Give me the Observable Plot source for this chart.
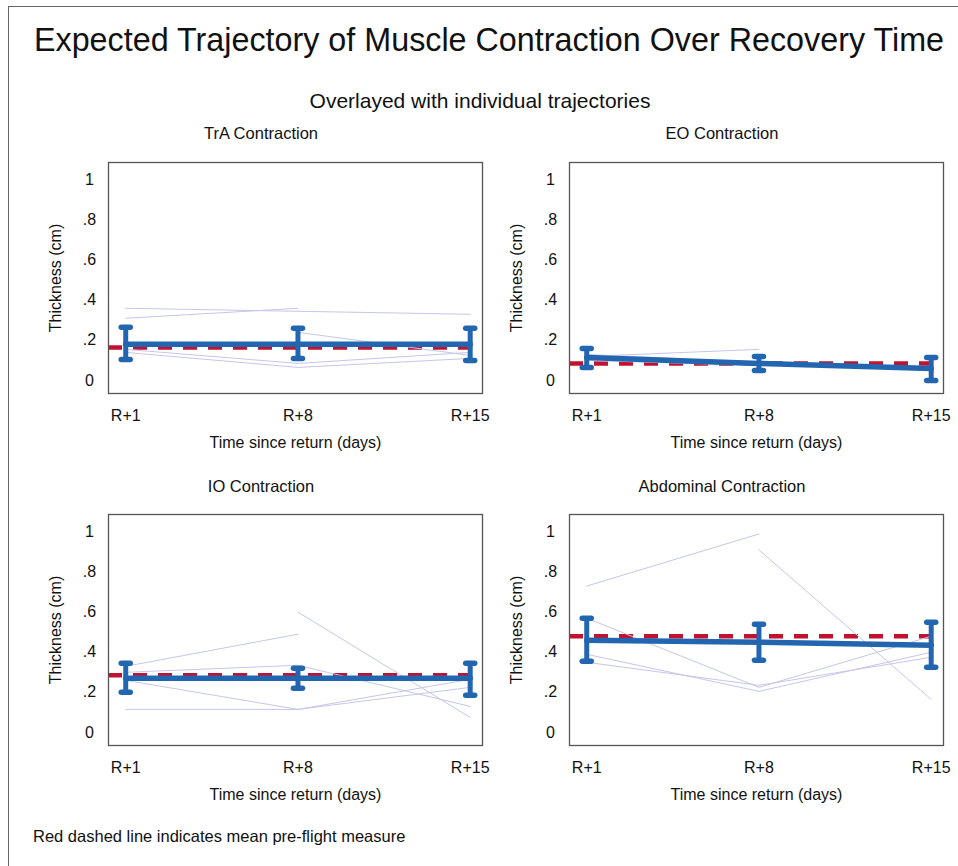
<!DOCTYPE html>
<html>
<head>
<meta charset="utf-8">
<script src="https://cdn.jsdelivr.net/npm/d3@7"></script>
<script src="https://cdn.jsdelivr.net/npm/@observablehq/plot@0.6"></script>
<style>
  body { margin: 0; background: #fff; font-family: "Liberation Sans", Arial, Helvetica, sans-serif; color: #111; }
  #page { position: relative; width: 958px; height: 866px; overflow: hidden; }
  .border { position: absolute; left: 8px; top: 6px; width: 1000px; height: 900px; border-left: 1px solid #666; border-top: 1px solid #666; }
  .txt { position: absolute; line-height: 1; white-space: nowrap; }
  .panel { position: absolute; }
</style>
</head>
<body>
<div id="page">
  <div class="border"></div>
  <div class="txt" id="title" style="left:0;width:978px;text-align:center;top:24px;font-size:32.3px;"></div>
  <div class="txt" id="subtitle" style="left:0;width:960px;text-align:center;top:90px;font-size:21px;"></div>
  <div class="txt" id="t0" style="left:61px;width:400px;text-align:center;top:125px;font-size:16.5px;"></div>
  <div class="txt" id="t1" style="left:522px;width:400px;text-align:center;top:125px;font-size:16.5px;"></div>
  <div class="txt" id="t2" style="left:61px;width:400px;text-align:center;top:478px;font-size:16.5px;"></div>
  <div class="txt" id="t3" style="left:522px;width:400px;text-align:center;top:478px;font-size:16.5px;"></div>
  <div class="panel" id="p0" style="left:30px;top:150px;"></div>
  <div class="panel" id="p1" style="left:491px;top:150px;"></div>
  <div class="panel" id="p2" style="left:30px;top:502px;"></div>
  <div class="panel" id="p3" style="left:491px;top:502px;"></div>
  <div class="txt" id="caption" style="left:33px;top:828px;font-size:16.5px;"></div>
</div>
<script>
// ---- Text ----
const mainTitle = "Expected Trajectory of Muscle Contraction Over Recovery Time";
const subTitle = "Overlayed with individual trajectories";
const captionText = "Red dashed line indicates mean pre-flight measure";
const panelTitles = ["TrA Contraction", "EO Contraction", "IO Contraction", "Abdominal Contraction"];
const xTitle = "Time since return (days)";
const yTitle = "Thickness (cm)";

// ---- Axes ----
const days = [1, 8, 15];
const dayLabels = ["R+1", "R+8", "R+15"];
const yTicks = [0, 0.2, 0.4, 0.6, 0.8, 1];
const yTickLabels = ["0", ".2", ".4", ".6", ".8", "1"];

// ---- TrA ----
const traMean = [0.18, 0.18, 0.18];
const traLow = [0.105, 0.11, 0.10];
const traHigh = [0.265, 0.26, 0.26];
const traPre = 0.165;
const traSubjects = [
  [0.36, 0.345, 0.33],
  [0.31, 0.36, null],
  [0.14, 0.065, 0.11],
  [0.155, 0.085, 0.14],
  [null, 0.24, 0.125]
];

// ---- EO ----
const eoMean = [0.115, 0.085, 0.06];
const eoLow = [0.065, 0.05, 0.0];
const eoHigh = [0.16, 0.12, 0.115];
const eoPre = 0.085;
const eoSubjects = [
  [0.12, 0.155, null],
  [0.10, 0.075, 0.07],
  [0.13, 0.09, 0.05],
  [0.11, 0.08, 0.06]
];

// ---- IO ----
const ioMean = [0.27, 0.27, 0.27];
const ioLow = [0.20, 0.22, 0.185];
const ioHigh = [0.345, 0.32, 0.345];
const ioPre = 0.285;
const ioSubjects = [
  [0.33, 0.49, null],
  [null, 0.60, 0.075],
  [0.115, 0.115, 0.265],
  [0.26, 0.115, 0.225],
  [0.30, 0.335, 0.13]
];

// ---- Abdominal ----
const abMean = [0.46, 0.45, 0.435];
const abLow = [0.355, 0.36, 0.325];
const abHigh = [0.57, 0.54, 0.55];
const abPre = 0.48;
const abSubjects = [
  [0.73, 0.99, null],
  [null, 0.91, 0.165],
  [0.57, 0.225, 0.48],
  [0.39, 0.205, 0.40],
  [0.35, 0.235, 0.375]
];

const blue = "#2366b0";
const red = "#c1132f";
const lavender = "#c6c6ea";

// horizontal-bar symbol for error-bar caps
const capSymbol = {
  draw(context, size) {
    const r = Math.sqrt(size / Math.PI);
    context.moveTo(-r, 0);
    context.lineTo(r, 0);
  }
};

function makePanel(mean, low, high, pre, subjects, width) {
  const meanData = days.map((d, i) => ({day: d, mean: mean[i], low: low[i], high: high[i]}));
  const subjData = subjects.flatMap((s, j) => s.map((v, i) => ({subject: j, day: days[i], value: v == null ? NaN : v})));
  return Plot.plot({
    width,
    height: 305,
    marginLeft: 78,
    marginRight: width - 78 - 374,
    marginTop: 12,
    marginBottom: 62,
    style: {fontFamily: "'Liberation Sans', Arial, sans-serif", fontSize: "16px", color: "#111", background: "transparent", overflow: "visible"},
    x: {domain: [0.3, 15.5]},
    y: {domain: [-0.065, 1.087]},
    marks: [
      Plot.axisX(days, {
        tickSize: 0, tickPadding: 16,
        tickFormat: d => dayLabels[days.indexOf(d)],
        label: xTitle, labelAnchor: "center", labelOffset: 54, labelArrow: "none",
        fontSize: 16
      }),
      Plot.axisY(yTicks, {
        tickSize: 0, tickPadding: 19, textAnchor: "middle",
        tickFormat: d => yTickLabels[yTicks.indexOf(d)],
        label: yTitle, labelAnchor: "center", labelOffset: 59, labelArrow: "none",
        fontSize: 16
      }),
      Plot.ruleY([pre], {stroke: red, strokeWidth: 4.5, strokeDasharray: "14,11"}),
      Plot.line(subjData, {x: "day", y: "value", z: "subject", stroke: lavender, strokeWidth: 1}),
      Plot.line(meanData, {x: "day", y: "mean", stroke: blue, strokeWidth: 5.5}),
      Plot.ruleX(meanData, {x: "day", y1: "low", y2: "high", stroke: blue, strokeWidth: 5}),
      Plot.dot(meanData, {x: "day", y: "low", symbol: capSymbol, r: 4.5, stroke: blue, strokeWidth: 5.5, strokeLinecap: "round"}),
      Plot.dot(meanData, {x: "day", y: "high", symbol: capSymbol, r: 4.5, stroke: blue, strokeWidth: 5.5, strokeLinecap: "round"}),
      Plot.frame({stroke: "#555", strokeWidth: 1.3})
    ]
  });
}

document.getElementById("title").textContent = mainTitle;
document.getElementById("subtitle").textContent = subTitle;
document.getElementById("caption").textContent = captionText;
panelTitles.forEach((t, i) => document.getElementById("t" + i).textContent = t);

document.getElementById("p0").append(makePanel(traMean, traLow, traHigh, traPre, traSubjects, 462));
document.getElementById("p1").append(makePanel(eoMean, eoLow, eoHigh, eoPre, eoSubjects, 467));
document.getElementById("p2").append(makePanel(ioMean, ioLow, ioHigh, ioPre, ioSubjects, 462));
document.getElementById("p3").append(makePanel(abMean, abLow, abHigh, abPre, abSubjects, 467));
</script>
</body>
</html>
